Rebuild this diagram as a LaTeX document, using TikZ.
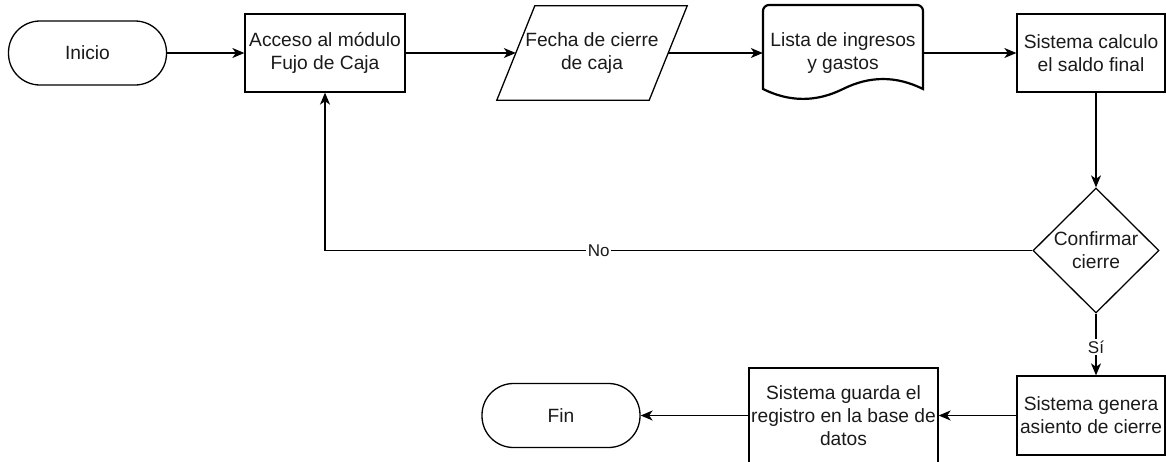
\documentclass[tikz,border=0pt]{standalone}
\usepackage{fontspec}
\setmainfont{Liberation Sans}
\usetikzlibrary{arrows.meta,shapes.geometric,calc}
\definecolor{ink}{HTML}{1A1A1A}
\begin{document}
\begin{tikzpicture}[x=1pt,y=-1pt,
  font=\fontsize{19.2}{23}\selectfont,
  every node/.style={inner sep=0pt, align=center, text=ink},
  flow/.style={line width=1.3pt, draw=black},
  proc/.style={flow, rectangle, minimum height=78pt},
  term/.style={flow, rectangle, rounded corners=31.5pt, minimum width=158pt, minimum height=64pt},
  decision/.style={flow, diamond, aspect=1, minimum width=126pt, minimum height=125pt},
  docline/.style={line width=2.2pt, draw=black},
  link/.style={line width=1.3pt, -{Stealth[length=12pt,width=10pt,inset=3.5pt]}},
  lbl/.style={fill=white, font=\fontsize{17}{20}\selectfont, inner sep=1.5pt}
]
\useasboundingbox (0,0) rectangle (1166,461);
\clip (0,0) rectangle (1166,461);

% top row
\node[term] (inicio) at (87.5,53) {Inicio};
\node[proc, minimum width=160pt] (acceso) at (325,53) {Acceso al módulo\\Fujo de Caja};

% input parallelogram
\node[minimum width=190pt, minimum height=94pt] (fecha) at (592,53) {Fecha de cierre\\de caja};
\draw[flow] ($(fecha.north west)+(38,0)$) -- (fecha.north east)
  -- ($(fecha.south east)+(-38,0)$) -- (fecha.south west) -- cycle;
\coordinate (fechaIn)  at ($(fecha.west)+(19,0)$);
\coordinate (fechaOut) at ($(fecha.east)+(-19,0)$);

% document shape
\node[minimum width=160pt, minimum height=94pt] (lista) at (843,53) {Lista de ingresos\\y gastos};
\draw[docline] (763,89) -- (763,11) arc (180:270:6) -- (917,5) arc (270:360:6) -- (923,89)
  .. controls (896.3,75.7) and (869.7,75.7) .. (843,89)
  .. controls (816.3,102.2) and (789.7,102.2) .. (763,89) -- cycle;

\node[proc, minimum width=148pt] (calc) at (1091,53) {Sistema calculo\\el saldo final};

% decision
\node[decision] (dia) at (1096,250.5) {Confirmar\\cierre};

% bottom row
\node[proc, minimum width=148pt, minimum height=79pt] (genera) at (1091,415.5) {Sistema genera\\asiento de cierre};
\node[proc, minimum width=189pt, minimum height=96pt] (guarda) at (843.5,416) {Sistema guarda el\\registro en la base de\\datos};
\node[term] (fin) at (561,415.5) {Fin};

% connectors
\draw[link] (inicio.east) -- (acceso.west);
\draw[link] (acceso.east) -- (fechaIn);
\draw[link] (fechaOut) -- (lista.west);
\draw[link] (lista.east) -- (calc.west);
\draw[link] (calc.south -| dia.north) -- (dia.north);
\draw[link] (dia.west) -- node[lbl, pos=0.613] {No} (acceso.south |- dia.west) -- (acceso.south);
\draw[link] (dia.south) -- node[lbl, pos=0.54] {Sí} (dia.south |- genera.north);
\draw[link] (genera.west) -- (guarda.east |- genera.west);
\draw[link] (guarda.west |- fin.east) -- (fin.east);
\end{tikzpicture}
\end{document}
